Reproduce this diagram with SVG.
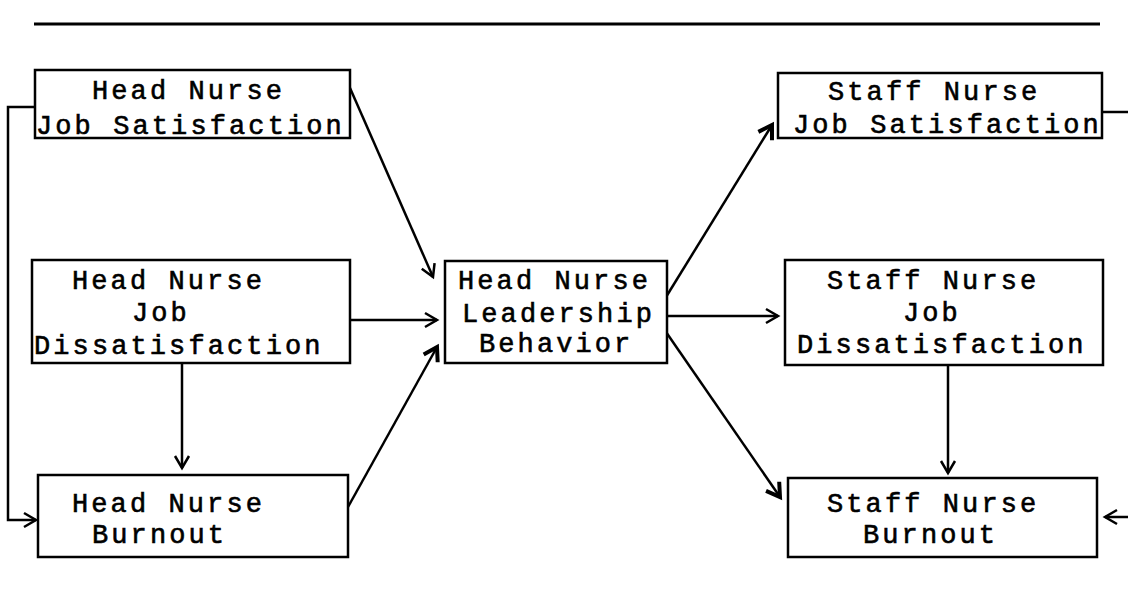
<svg xmlns="http://www.w3.org/2000/svg" width="1128" height="607" viewBox="0 0 1128 607">
<style>
.box{fill:#fff;stroke:#000;stroke-width:2.5}
.t{font-family:"Liberation Mono","Courier New",monospace;font-size:27px;letter-spacing:3.1px;fill:#000;stroke:#000;stroke-width:0.6}
.c{fill:none;stroke:#000;stroke-width:2.5}
</style>
<defs>
<marker id="ah" markerWidth="20" markerHeight="20" refX="14" refY="8" orient="auto" markerUnits="userSpaceOnUse" viewBox="0 0 20 16">
<path d="M2,1 L14,8 L2,15" fill="none" stroke="#000" stroke-width="2.5"/>
</marker>
<marker id="ahb" markerWidth="22" markerHeight="22" refX="15" refY="9" orient="auto" markerUnits="userSpaceOnUse" viewBox="0 0 22 18">
<path d="M2,1 L15,9 L2,17" fill="none" stroke="#000" stroke-width="4"/>
</marker>
</defs>
<rect width="1128" height="607" fill="#fff"/>
<line x1="34" y1="24" x2="1100" y2="24" stroke="#000" stroke-width="3"/>
<g id="connectors">
<path class="c" d="M350,88 L433,277" marker-end="url(#ah)"/>
<path class="c" d="M350,320 L437,320" marker-end="url(#ah)"/>
<path class="c" d="M348,507 L437,347" marker-end="url(#ahb)"/>
<path class="c" d="M182,363 L182,468" marker-end="url(#ah)"/>
<path class="c" d="M35,107 L8,107 L8,520 L36,520" marker-end="url(#ah)"/>
<path class="c" d="M666,297 L772,125" marker-end="url(#ahb)"/>
<path class="c" d="M667,316 L778,316" marker-end="url(#ah)"/>
<path class="c" d="M666,332 L780,497" marker-end="url(#ahb)"/>
<path class="c" d="M948,365 L948,473" marker-end="url(#ah)"/>
<path class="c" d="M1102,112 L1128,112"/>
<path class="c" d="M1128,517 L1105,517" marker-end="url(#ah)"/>
</g>
<g id="hn-job-satisfaction">
<rect class="box" x="35" y="70" width="315" height="68"/>
<text class="t" x="92" y="99">Head Nurse</text>
<text class="t" x="36" y="134">Job Satisfaction</text>
</g>
<g id="hn-job-dissatisfaction">
<rect class="box" x="32" y="260" width="318" height="103"/>
<text class="t" x="72" y="289">Head Nurse</text>
<text class="t" x="132" y="321">Job</text>
<text class="t" x="34" y="354">Dissatisfaction</text>
</g>
<g id="hn-burnout">
<rect class="box" x="38" y="475" width="310" height="82"/>
<text class="t" x="72" y="512">Head Nurse</text>
<text class="t" x="92" y="543">Burnout</text>
</g>
<g id="hn-leadership">
<rect class="box" x="445" y="261" width="222" height="102"/>
<text class="t" x="458" y="289">Head Nurse</text>
<text class="t" x="462" y="322">Leadership</text>
<text class="t" x="479" y="352">Behavior</text>
</g>
<g id="sn-job-satisfaction">
<rect class="box" x="778" y="73" width="324" height="65"/>
<text class="t" x="828" y="100">Staff Nurse</text>
<text class="t" x="793" y="133">Job Satisfaction</text>
</g>
<g id="sn-job-dissatisfaction">
<rect class="box" x="785" y="260" width="318" height="105"/>
<text class="t" x="827" y="289">Staff Nurse</text>
<text class="t" x="903" y="321">Job</text>
<text class="t" x="797" y="353">Dissatisfaction</text>
</g>
<g id="sn-burnout">
<rect class="box" x="788" y="478" width="309" height="79"/>
<text class="t" x="827" y="512">Staff Nurse</text>
<text class="t" x="863" y="543">Burnout</text>
</g>
</svg>
